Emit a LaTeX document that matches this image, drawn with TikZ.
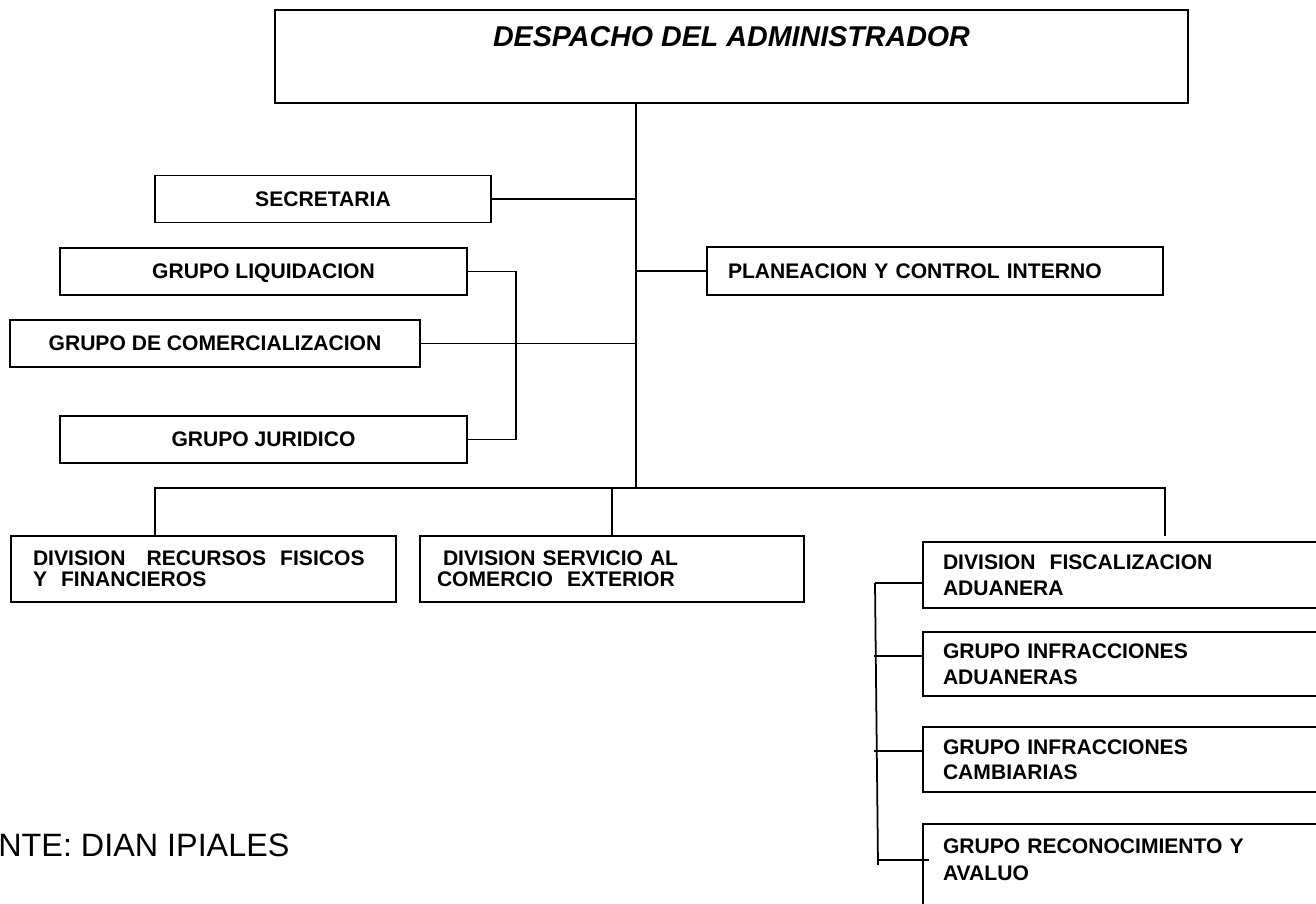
\documentclass[tikz,border=0pt]{standalone}
\usepackage{fontspec}
\setmainfont{Liberation Sans}

\begin{document}
\begin{tikzpicture}
\tikzset{bx/.style={draw, rectangle, line width=1.1pt, inner sep=0pt,
  font=\fontsize{12}{12}\selectfont\bfseries}}
\tikzset{bxl/.style={bx, align=left}}
\tikzset{ln/.style={line width=1pt}}

\useasboundingbox (0,0) rectangle (26.32,-18.06);
\clip (0,0) rectangle (26.32,-18.06);

% Top
\node[bx, minimum width=18.26cm, inner ysep=.32cm, text height=.41cm, text depth=.81cm,
 font=\fontsize{16.3}{19}\selectfont\bfseries\itshape] (despacho) at (14.63,-1.13)
{DESPACHO DEL ADMINISTRADOR};

% Staff boxes
\node[bx, minimum width=6.72cm, minimum height=.94cm] (secretaria) at (6.46,-3.98) {SECRETARIA};
\node[bxl, text width=8.28cm, inner xsep=.42cm, minimum height=.96cm] (planeacion) at (18.7,-5.42)
{PLANEACION Y CONTROL INTERNO};
\node[bx, minimum width=8.14cm, minimum height=.94cm, text depth=0pt] (liquidacion) at (5.27,-5.43)
{GRUPO LIQUIDACION};
\node[bx, minimum width=8.2cm, minimum height=.94cm] (comercial) at (4.3,-6.87) {GRUPO DE COMERCIALIZACION};
\node[bx, minimum width=8.14cm, minimum height=.94cm] (juridico) at (5.27,-8.79) {GRUPO JURIDICO};

% Divisions
\node[bxl, text width=6.82cm, inner xsep=.44cm, minimum height=1.32cm] (recursos) at (4.07,-11.38)
{DIVISION~~~RECURSOS~~FISICOS\\Y~~FINANCIEROS};
\node[bxl, text width=7.0cm, inner xsep=.34cm, minimum height=1.32cm] (servicio) at (12.24,-11.38)
{\hspace{.12cm}DIVISION SERVICIO AL\\COMERCIO~~EXTERIOR};

% Right column
\tikzset{rc/.style={bxl, text width=8.2cm, inner xsep=.4cm,
  font=\fontsize{12}{14.5}\selectfont\bfseries}}
\node[rc, minimum height=1.32cm] (fiscal) at (22.96,-11.5) {DIVISION~~FISCALIZACION\\ADUANERA};
\node[rc, minimum height=1.28cm] (infadu) at (22.96,-13.28) {GRUPO INFRACCIONES\\ADUANERAS};
\node[rc, minimum height=1.30cm] (infcam) at (22.96,-15.19) {GRUPO INFRACCIONES\\CAMBIARIAS};
\node[rc, anchor=north, inner ysep=.29cm, text depth=.82cm, font=\fontsize{12}{15.3}\selectfont\bfseries]
 (recon) at (22.96,-16.46) {GRUPO RECONOCIMIENTO Y\\AVALUO};

\node[anchor=west, inner sep=0pt, font=\fontsize{18.4}{20}\selectfont] (fuente) at (-0.04,-16.9)
{NTE: DIAN IPIALES};

% Connections
\coordinate (hub) at (12.72,-9.76);
\coordinate (busl) at (3.1,-9.76);
\coordinate (busr) at (23.3,-9.76);
\draw[ln] (despacho.south -| hub) -- (hub);
\draw[ln] (secretaria.east) -- (secretaria.east -| hub);
\draw[ln] (planeacion.west) -- (planeacion.west -| hub);
\draw[ln] (comercial.east) -- (comercial.east -| hub);
\draw[ln] (liquidacion.east) -- ++(.96,0) |- (juridico.east);

\draw[ln] (busl |- recursos.north) -- (busl) -- (busr) -- ++(0,-.96);
\draw[ln] (servicio.north) -- (servicio.north |- busl);

\coordinate (railtop) at (17.5,-11.66);
\coordinate (railbot) at (17.56,-17.3);
\coordinate (tickr) at (17.56,-17.2);
\draw[ln] (railtop) -- (railbot);
\draw[ln] ([yshift=-.16cm]fiscal.west) -- (railtop);
\draw[ln] ([yshift=.16cm]infadu.west) -- ++(-.96,0);
\draw[ln] ([yshift=.17cm]infcam.west) -- ++(-.96,0);
\draw[ln] (tickr) -- ++(1.02,0);

\end{tikzpicture}
\end{document}
